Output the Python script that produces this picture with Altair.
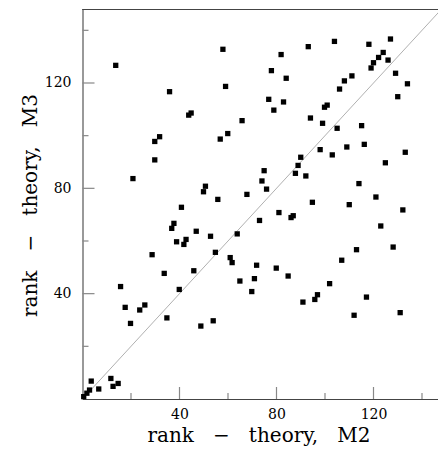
import altair as alt
import pandas as pd

# rank - theory values
m2 = [13.7, 57.9, 59.0, 35.9, 43.8, 44.8, 29.8, 31.8, 29.8, 20.8,
      65.8, 56.8, 59.9, 49.9, 50.7, 55.8, 40.8, 36.8, 37.7, 38.8,
      41.8, 42.7, 46.9, 28.7, 33.7, 39.9, 45.9, 52.8, 54.8, 63.8,
      67.8, 74.0, 74.9, 75.9, 73.0, 60.9, 61.7, 64.9, 70.9, 71.8,
      69.8, 48.8, 53.9, 34.8, 15.7, 17.6, 19.8, 23.6, 25.7, 81.0,
      79.9, 84.8, 86.0, 86.9, 87.8, 88.9, 90.0, 92.1, 94.8, 90.9,
      95.8, 96.9, 101.9, 98.0, 99.0, 99.8, 100.9, 94.0, 105.0, 103.0,
      109.0, 110.0, 114.0, 113.0, 106.9, 112.0, 117.1, 116.2, 115.1, 121.0,
      123.0, 124.9, 128.1, 131.0, 133.1, 132.1, 129.1, 134.0, 130.0, 126.0,
      127.0, 124.0, 122.1, 120.0, 119.0, 118.1, 103.9, 93.1, 81.9, 77.9,
      84.0, 76.8, 78.9, 82.9, 106.0, 108.0, 111.1,
      3.6, 6.7, 11.7, 12.6, 14.7, 2.9, 1.8, 0.5]
m3 = [126.7, 132.8, 118.7, 116.7, 107.8, 108.6, 97.8, 99.6, 90.8, 83.7,
      105.7, 98.7, 100.8, 78.7, 80.8, 75.8, 72.8, 64.8, 66.7, 59.7,
      58.7, 60.6, 63.7, 54.8, 47.7, 41.6, 48.7, 61.8, 55.7, 62.7,
      77.7, 82.8, 86.7, 79.7, 67.8, 53.7, 51.8, 44.8, 45.7, 50.8,
      40.8, 27.7, 29.7, 30.8, 42.7, 34.8, 28.7, 33.8, 35.7, 70.8,
      49.7, 46.7, 68.9, 69.6, 85.7, 88.7, 91.8, 84.7, 74.7, 36.8,
      37.8, 39.6, 43.8, 94.7, 104.7, 110.8, 111.6, 106.7, 102.8, 92.7,
      95.7, 73.8, 81.8, 56.7, 52.7, 31.8, 38.7, 96.7, 103.8, 76.7,
      65.7, 89.7, 57.7, 32.8, 93.7, 71.8, 123.7, 119.7, 114.8, 128.7,
      136.7, 131.6, 129.7, 127.7, 125.7, 134.7, 135.8, 133.8, 130.8, 124.7,
      121.8, 113.8, 109.7, 112.8, 117.7, 120.8, 122.7,
      6.8, 3.8, 7.8, 4.8, 5.9, 3.4, 2.2, 0.9]

diag_x = [0, 150]
diag_y = [0, 150]

tick_labels = [40, 80, 120]
minor_ticks = [20, 60, 100, 140]

x_domain = [0, 146.6]
y_domain = [0, 148.1]

FONT = "DejaVu Serif"
NB = "\u00a0"
GAP = NB * 3
x_title = f"rank{GAP}−{GAP}theory,{GAP}M2"
y_title = f"rank{GAP}−{GAP}theory,{GAP}M3"

W = 355.5
H = 390

xs = alt.Scale(domain=x_domain, nice=False, zero=False)
ys = alt.Scale(domain=y_domain, nice=False, zero=False)

ax_x = alt.Axis(
    values=tick_labels, ticks=False, grid=False, domainColor="#444444",
    labelFont=FONT, labelFontSize=14, labelColor="black", labelPadding=8,
    title=x_title, titleFont=FONT, titleFontSize=20,
    titleFontWeight="normal", titleColor="black",
    titleX=176, titleY=42.8, titleBaseline="alphabetic", titleAlign="center")
ax_y = alt.Axis(
    values=tick_labels, ticks=False, grid=False, domainColor="#444444",
    labelFont=FONT, labelFontSize=14, labelColor="black", labelPadding=11.5,
    title=y_title, titleFont=FONT, titleFontSize=20,
    titleFontWeight="normal", titleColor="black", titleAngle=270,
    titleX=-46, titleY=196, titleBaseline="alphabetic", titleAlign="center")

pts = pd.DataFrame({"m2": m2, "m3": m3})
diag = pd.DataFrame({"m2": diag_x, "m3": diag_y})
major = pd.DataFrame({"m2": tick_labels, "m3": tick_labels})
minor = pd.DataFrame({"m2": minor_ticks, "m3": minor_ticks})

tick_color = "#888888"

X = alt.X("m2:Q", scale=xs, axis=ax_x)
Y = alt.Y("m3:Q", scale=ys, axis=ax_y)

diag_layer = alt.Chart(diag).mark_line(color="#b0b0b0", strokeWidth=1, clip=True).encode(x=X, y=Y)

ytick_major = alt.Chart(major).mark_rule(color=tick_color, strokeWidth=1.2).encode(
    y=Y, x=alt.value(0), x2=alt.value(12))
ytick_minor = alt.Chart(minor).mark_rule(color=tick_color, strokeWidth=1.2).encode(
    y=Y, x=alt.value(0), x2=alt.value(6))
xtick_major = alt.Chart(major).mark_rule(color=tick_color, strokeWidth=1.2).encode(
    x=X, y=alt.value(H), y2=alt.value(H - 12))
xtick_minor = alt.Chart(minor).mark_rule(color=tick_color, strokeWidth=1.2).encode(
    x=X, y=alt.value(H), y2=alt.value(H - 6))

# top frame line of the plot box
top_frame = alt.Chart(major).mark_rule(color="#444444", strokeWidth=1.2).encode(
    x=alt.value(0), x2=alt.value(W), y=alt.value(0.5))

points = alt.Chart(pts).mark_square(size=28, color="black", opacity=1).encode(x=X, y=Y)

chart = alt.layer(diag_layer, ytick_minor, ytick_major, xtick_minor, xtick_major,
                  top_frame, points).properties(
    width=W, height=H,
    autosize=alt.AutoSizeParams(type="none"),
    padding={"left": 74.5, "top": 1, "right": 0, "bottom": 47},
).configure_view(stroke=None).configure(background="white")

chart.save("out.html", embed_options={"renderer": "svg", "actions": False})
